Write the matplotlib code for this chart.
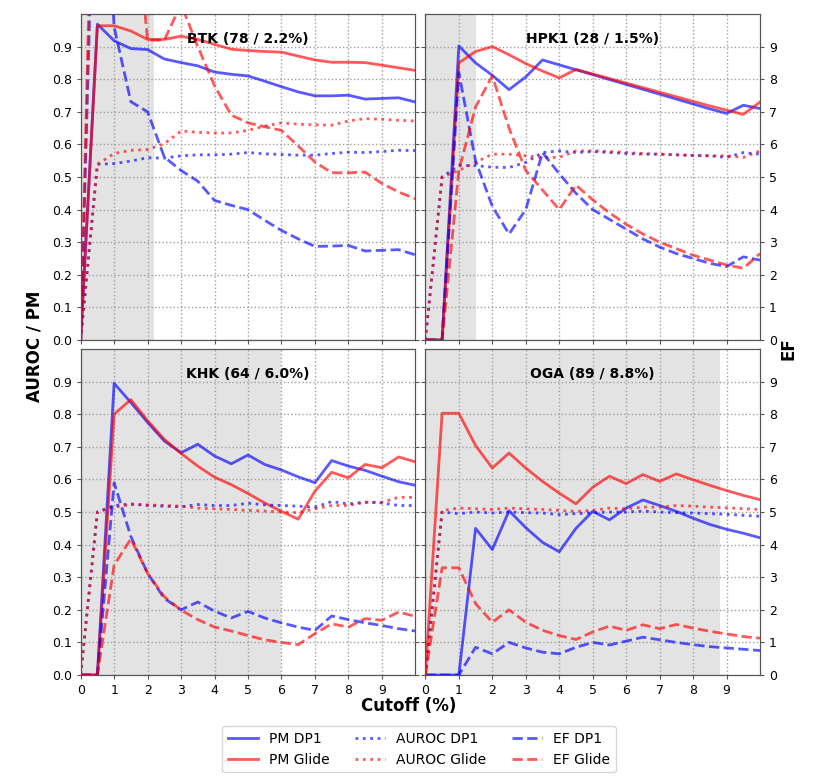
import numpy as np
import matplotlib
matplotlib.use("Agg")
import matplotlib.pyplot as plt

cutoffs = np.arange(0, 10.01, 0.5)

targets = ["BTK", "HPK1", "KHK", "OGA"]
n_actives = [78, 28, 64, 89]
active_pct = [2.2, 1.5, 6.0, 8.8]

# PM (left axis)
pm_dp1 = {
    "BTK": [0, 0.969, 0.918, 0.894, 0.891, 0.862, 0.851, 0.841, 0.822, 0.815, 0.810,
            0.794, 0.777, 0.761, 0.749, 0.749, 0.751, 0.739, 0.741, 0.743, 0.730],
    "HPK1": [0, 0, 0.902, 0.850, 0.812, 0.768, 0.807, 0.859, 0.844, 0.829, 0.814,
             0.799, 0.784, 0.769, 0.754, 0.739, 0.724, 0.709, 0.695, 0.720, 0.710],
    "KHK": [0, 0, 0.895, 0.836, 0.775, 0.718, 0.682, 0.708, 0.672, 0.648, 0.675,
            0.646, 0.629, 0.608, 0.590, 0.658, 0.641, 0.628, 0.610, 0.593, 0.582],
    "OGA": [0, 0, 0, 0.450, 0.385, 0.504, 0.452, 0.407, 0.378, 0.450, 0.502,
            0.476, 0.512, 0.537, 0.520, 0.502, 0.481, 0.462, 0.447, 0.435, 0.421],
}
pm_glide = {
    "BTK": [0, 0.964, 0.964, 0.948, 0.922, 0.922, 0.932, 0.922, 0.907, 0.892, 0.888,
            0.885, 0.883, 0.871, 0.859, 0.852, 0.852, 0.851, 0.843, 0.835, 0.827],
    "HPK1": [0, 0, 0.850, 0.885, 0.900, 0.875, 0.848, 0.825, 0.804, 0.830, 0.816,
             0.802, 0.788, 0.774, 0.760, 0.746, 0.732, 0.718, 0.705, 0.692, 0.730],
    "KHK": [0, 0, 0.800, 0.845, 0.780, 0.723, 0.680, 0.641, 0.607, 0.584, 0.557,
            0.528, 0.502, 0.478, 0.564, 0.622, 0.605, 0.646, 0.636, 0.669, 0.654],
    "OGA": [0, 0.803, 0.803, 0.704, 0.635, 0.681, 0.635, 0.594, 0.558, 0.525, 0.576,
            0.610, 0.587, 0.615, 0.594, 0.617, 0.599, 0.582, 0.566, 0.551, 0.538],
}

# AUROC (left axis)
auroc_dp1 = {
    "BTK": [0, 0.539, 0.541, 0.549, 0.559, 0.558, 0.565, 0.568, 0.568, 0.570, 0.575,
            0.571, 0.569, 0.567, 0.567, 0.572, 0.576, 0.575, 0.578, 0.582, 0.581],
    "HPK1": [0, 0.500, 0.535, 0.535, 0.530, 0.529, 0.545, 0.575, 0.580, 0.575, 0.578,
             0.575, 0.572, 0.570, 0.570, 0.568, 0.566, 0.565, 0.560, 0.575, 0.570],
    "KHK": [0, 0.500, 0.520, 0.525, 0.520, 0.518, 0.516, 0.523, 0.520, 0.520, 0.527,
            0.522, 0.520, 0.518, 0.515, 0.532, 0.525, 0.530, 0.528, 0.520, 0.520],
    "OGA": [0, 0.500, 0.495, 0.500, 0.497, 0.500, 0.498, 0.497, 0.492, 0.495, 0.498,
            0.500, 0.500, 0.503, 0.500, 0.498, 0.497, 0.495, 0.493, 0.490, 0.487],
}
auroc_glide = {
    "BTK": [0, 0.539, 0.572, 0.582, 0.584, 0.602, 0.641, 0.637, 0.635, 0.635, 0.643,
            0.656, 0.666, 0.662, 0.660, 0.659, 0.672, 0.679, 0.677, 0.674, 0.672],
    "HPK1": [0, 0.500, 0.520, 0.545, 0.570, 0.570, 0.565, 0.560, 0.560, 0.580, 0.580,
             0.578, 0.575, 0.572, 0.570, 0.568, 0.566, 0.565, 0.565, 0.560, 0.580],
    "KHK": [0, 0.500, 0.515, 0.523, 0.522, 0.520, 0.518, 0.512, 0.510, 0.508, 0.505,
            0.503, 0.500, 0.498, 0.510, 0.520, 0.520, 0.530, 0.530, 0.545, 0.545],
    "OGA": [0, 0.505, 0.512, 0.510, 0.508, 0.512, 0.510, 0.508, 0.505, 0.502, 0.505,
            0.512, 0.510, 0.515, 0.515, 0.520, 0.518, 0.515, 0.513, 0.510, 0.508],
}

# EF (right axis)
ef_dp1 = {
    "BTK": [0, 18.5, 9.6, 7.31, 7.0, 5.61, 5.2, 4.87, 4.28, 4.13, 4.0,
            3.67, 3.36, 3.1, 2.87, 2.88, 2.9, 2.73, 2.75, 2.77, 2.61],
    "HPK1": [0, 0, 8.2, 5.5, 4.1, 3.25, 4.0, 5.75, 5.1, 4.5, 4.0,
             3.7, 3.4, 3.1, 2.85, 2.65, 2.5, 2.35, 2.25, 2.55, 2.45],
    "KHK": [0, 0, 5.9, 4.25, 3.12, 2.35, 2.0, 2.24, 1.96, 1.75, 1.95,
            1.75, 1.6, 1.47, 1.37, 1.81, 1.7, 1.6, 1.52, 1.42, 1.35],
    "OGA": [0, 0, 0, 0.85, 0.65, 1.0, 0.83, 0.7, 0.65, 0.85, 1.0,
            0.92, 1.04, 1.16, 1.08, 1.0, 0.93, 0.87, 0.83, 0.79, 0.75],
}
ef_glide = {
    "BTK": [0, 21.0, 17.0, 14.5, 9.2, 9.2, 10.3, 9.0, 7.8, 6.9, 6.66,
            6.54, 6.43, 5.95, 5.46, 5.13, 5.13, 5.15, 4.8, 4.54, 4.33],
    "HPK1": [0, 0, 5.2, 7.15, 8.1, 6.5, 5.2, 4.6, 4.0, 4.75, 4.3,
             3.9, 3.55, 3.25, 3.0, 2.8, 2.6, 2.45, 2.3, 2.2, 2.65],
    "KHK": [0, 0, 3.37, 4.18, 3.12, 2.4, 1.99, 1.7, 1.47, 1.35, 1.21,
            1.08, 1.0, 0.93, 1.27, 1.57, 1.47, 1.73, 1.68, 1.93, 1.8],
    "OGA": [0, 3.29, 3.29, 2.19, 1.62, 2.0, 1.62, 1.37, 1.21, 1.09, 1.32,
            1.5, 1.37, 1.54, 1.42, 1.55, 1.44, 1.34, 1.26, 1.18, 1.13],
}

blue = (0, 0, 1, 0.65)
red = (1, 0, 0, 0.65)
lw = 2
spine_col = "#555555"

fig, axes = plt.subplots(2, 2, figsize=(8.23, 7.79), dpi=100, sharex=True, sharey=True)
fig.subplots_adjust(left=0.098, right=0.9235, top=0.982, bottom=0.1335,
                    wspace=0.03, hspace=0.028)

for i, (ax, t) in enumerate(zip(axes.flat, targets)):
    ax2 = ax.twinx()
    ax.axvspan(0, active_pct[i], color="#e3e3e3", zorder=0, lw=0)
    ax.plot(cutoffs, pm_dp1[t], color=blue, lw=lw, label="PM DP1")
    ax.plot(cutoffs, pm_glide[t], color=red, lw=lw, label="PM Glide")
    ax.plot(cutoffs, auroc_dp1[t], color=blue, lw=lw, ls=":", label="AUROC DP1")
    ax.plot(cutoffs, auroc_glide[t], color=red, lw=lw, ls=":", label="AUROC Glide")
    ax2.plot(cutoffs, ef_dp1[t], color=blue, lw=lw, ls="--", label="EF DP1")
    ax2.plot(cutoffs, ef_glide[t], color=red, lw=lw, ls="--", label="EF Glide")

    ax.set_xlim(0, 10)
    ax.set_ylim(0, 1)
    ax2.set_ylim(0, 10)
    ax.set_xticks(range(0, 10))
    ax.set_yticks(np.arange(0, 1.0, 0.1))
    ax2.set_yticks(range(0, 10))
    ax.grid(True, ls=":", color="#a0a0a0", lw=1)
    for a in (ax, ax2):
        a.tick_params(labelsize=9, color=spine_col, length=3)
        for s in a.spines.values():
            s.set_edgecolor(spine_col)
    if i % 2 == 0:
        ax2.tick_params(labelright=False)
    else:
        ax.tick_params(labelleft=False)
    ax.text(0.5, 0.922, "%s (%d / %.1f%%)" % (t, n_actives[i], active_pct[i]),
            transform=ax.transAxes, ha="center", va="center",
            fontsize=10, fontweight="bold", zorder=10)

    if i == 0:
        h1, l1 = ax.get_legend_handles_labels()
        h2, l2 = ax2.get_legend_handles_labels()

fig.text(0.496, 0.094, "Cutoff (%)", ha="center", va="center", fontsize=12, fontweight="bold")
fig.text(0.042, 0.555, "AUROC / PM", ha="center", va="center", rotation=90,
         fontsize=12, fontweight="bold")
fig.text(0.958, 0.553, "EF", ha="center", va="center", rotation=90,
         fontsize=12, fontweight="bold")

fig.legend(h1 + h2, l1 + l2, ncol=3, loc="center", bbox_to_anchor=(0.509, 0.038),
           fontsize=10, columnspacing=1.8, handlelength=2.2)

fig.savefig("out.png", dpi=100)
